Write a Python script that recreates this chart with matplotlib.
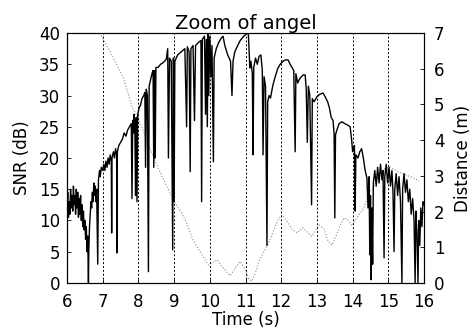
"""
Zoom of angel: SNR (left axis) and distance (right axis) against time
"""

import matplotlib
matplotlib.use('Agg')
import matplotlib.pyplot as plt

# SNR trace (time in s, SNR in dB)
snr_time = [
    6.00, 6.02, 6.04, 6.06, 6.08, 6.10, 6.12, 6.14, 6.16, 6.18,
    6.20, 6.22, 6.24, 6.26, 6.28, 6.30, 6.32, 6.34, 6.36, 6.38,
    6.40, 6.42, 6.44, 6.46, 6.48, 6.50, 6.52, 6.54, 6.56, 6.58,
    6.60, 6.61, 6.63, 6.65, 6.67, 6.69, 6.71, 6.73, 6.75, 6.77,
    6.79, 6.81, 6.83, 6.86, 6.88, 6.91, 6.93, 6.96, 7.00, 7.03,
    7.06, 7.09, 7.12, 7.15, 7.18, 7.21, 7.24, 7.25, 7.26, 7.30,
    7.33, 7.36, 7.39, 7.40, 7.41, 7.45, 7.50, 7.55, 7.60, 7.65,
    7.70, 7.75, 7.80, 7.82, 7.84, 7.86, 7.88, 7.90, 7.92, 7.94,
    7.96, 7.98, 8.02, 8.06, 8.10, 8.15, 8.18, 8.20, 8.22, 8.25,
    8.28, 8.30, 8.34, 8.38, 8.41, 8.43, 8.45, 8.47, 8.49, 8.55,
    8.62, 8.70, 8.78, 8.82, 8.84, 8.87, 8.92, 8.96, 8.98, 9.00,
    9.02, 9.10, 9.20, 9.30, 9.35, 9.37, 9.42, 9.45, 9.47, 9.53,
    9.57, 9.60, 9.68, 9.75, 9.77, 9.79, 9.85, 9.88, 9.90, 9.93,
    9.95, 9.97, 10.00, 10.03, 10.06, 10.10, 10.12, 10.18, 10.25, 10.32,
    10.37, 10.42, 10.50, 10.58, 10.62, 10.65, 10.70, 10.78, 10.85, 10.95,
    11.05, 11.08, 11.12, 11.15, 11.19, 11.21, 11.23, 11.28, 11.33, 11.38,
    11.43, 11.47, 11.49, 11.52, 11.56, 11.60, 11.62, 11.66, 11.70, 11.76,
    11.83, 11.90, 11.97, 12.05, 12.12, 12.19, 12.25, 12.30, 12.35, 12.39,
    12.41, 12.46, 12.50, 12.56, 12.62, 12.67, 12.70, 12.73, 12.76, 12.80,
    12.85, 12.87, 12.92, 13.00, 13.08, 13.17, 13.23, 13.30, 13.35, 13.40,
    13.45, 13.48, 13.50, 13.52, 13.56, 13.62, 13.70, 13.78, 13.85, 13.93,
    13.97, 14.00, 14.05, 14.07, 14.09, 14.15, 14.20, 14.25, 14.30, 14.35,
    14.40, 14.43, 14.46, 14.48, 14.50, 14.52, 14.54, 14.56, 14.58, 14.62,
    14.66, 14.70, 14.74, 14.78, 14.82, 14.85, 14.88, 14.90, 14.94, 14.98,
    15.02, 15.06, 15.10, 15.13, 15.16, 15.18, 15.22, 15.26, 15.30, 15.34,
    15.38, 15.40, 15.44, 15.48, 15.52, 15.56, 15.60, 15.64, 15.68, 15.72,
    15.75, 15.77, 15.80, 15.83, 15.85, 15.88, 15.91, 15.94, 15.97, 16.00,
]
snr_db = [
    12.0, 14.5, 10.5, 13.0, 11.0, 15.0, 12.0, 14.0, 11.5, 15.5,
    12.5, 14.0, 11.0, 15.0, 12.0, 14.5, 10.5, 13.5, 11.0, 14.0,
    10.0, 12.5, 9.0, 11.5, 8.5, 10.0, 7.0, 9.0, 5.0, 7.5,
    0.0, 5.0, 9.0, 11.0, 13.0, 12.0, 14.5, 13.0, 16.0, 14.0,
    15.5, 13.0, 15.0, 3.0, 16.5, 18.0, 17.0, 18.5, 18.0, 19.0,
    18.0, 19.5, 18.5, 20.0, 19.0, 20.5, 19.5, 8.0, 20.0, 21.0,
    20.0, 21.5, 20.5, 4.8, 21.0, 22.0, 22.5, 23.0, 24.0, 23.5,
    24.5, 25.0, 25.5, 13.5, 26.0, 24.0, 27.0, 25.0, 14.0, 26.5,
    13.0, 27.0, 28.0, 28.5, 29.5, 30.0, 30.5, 18.5, 31.0, 30.0,
    1.8, 31.5, 32.5, 33.5, 34.0, 18.5, 34.0, 20.0, 34.5, 34.5,
    35.0, 35.3, 35.8, 37.5, 20.0, 36.0, 35.5, 5.3, 36.0, 13.0,
    35.5, 36.5, 37.0, 37.5, 25.0, 37.8, 37.0, 17.8, 37.5, 38.0,
    26.0, 38.0, 38.5, 38.8, 13.0, 39.0, 39.5, 27.0, 39.0, 25.0,
    39.8, 30.0, 39.5, 33.0, 38.0, 19.4, 36.0, 37.5, 38.5, 39.2,
    39.5, 38.0, 36.5, 35.5, 30.0, 35.5, 37.0, 38.0, 38.8, 39.5,
    40.0, 39.8, 34.4, 35.5, 33.5, 20.5, 34.5, 36.0, 35.0, 36.3,
    36.5, 34.0, 20.5, 33.0, 31.5, 6.0, 29.0, 30.0, 29.6, 31.5,
    33.0, 34.3, 35.0, 35.5, 35.7, 35.7, 35.0, 34.5, 34.0, 21.0,
    33.5, 32.0, 32.5, 33.0, 33.3, 33.3, 31.0, 22.5, 31.5, 30.0,
    12.5, 29.5, 29.0, 29.8, 30.2, 30.4, 29.8, 29.0, 28.0, 26.5,
    26.0, 24.0, 10.4, 23.7, 24.5, 25.5, 25.8, 25.5, 25.3, 25.0,
    23.0, 21.0, 22.0, 11.5, 20.5, 20.0, 21.0, 21.5, 20.0, 18.0,
    16.8, 12.0, 17.0, 4.5, 14.0, 0.5, 12.0, 3.0, 16.0, 18.0,
    15.5, 18.5, 16.0, 19.0, 16.5, 18.0, 4.0, 17.0, 19.0, 16.0,
    18.5, 15.5, 18.0, 14.5, 5.0, 15.0, 17.5, 14.0, 17.0, 13.0,
    0.0, 15.0, 17.5, 14.5, 16.5, 13.0, 15.0, 11.0, 13.5, 10.0,
    0.0, 11.5, 8.0, 0.0, 10.0, 6.0, 12.0, 9.0, 13.0, 12.5,
]

# distance trace (time in s, distance in m)
dist_time = [
    6.00, 6.90, 6.95, 7.05, 7.20, 7.40, 7.57, 7.70, 7.82, 8.00,
    8.20, 8.35, 8.52, 8.70, 8.90, 9.05, 9.22, 9.36, 9.53, 9.73,
    9.90, 9.96, 10.05, 10.20, 10.35, 10.57, 10.70, 10.85, 10.95, 11.10,
    11.18, 11.30, 11.40, 11.55, 11.66, 11.80, 11.90, 12.02, 12.15, 12.30,
    12.45, 12.60, 12.70, 12.86, 13.00, 13.06, 13.20, 13.30, 13.42, 13.55,
    13.65, 13.76, 13.88, 13.98, 14.10, 14.32, 14.45, 14.60, 14.77, 14.90,
    15.05, 15.30, 15.55, 15.70, 15.86,
]
dist_m = [
    7.30, 7.05, 6.95, 6.75, 6.50, 6.10, 5.77, 5.35, 4.93, 4.60,
    4.10, 3.70, 3.30, 2.90, 2.50, 2.20, 1.95, 1.65, 1.20, 0.87,
    0.60, 0.50, 0.55, 0.65, 0.45, 0.20, 0.40, 0.60, 0.45, 0.10,
    0.05, 0.35, 0.65, 0.95, 1.15, 1.50, 1.75, 1.90, 1.75, 1.50,
    1.40, 1.55, 1.45, 1.30, 1.55, 1.62, 1.50, 1.20, 1.05, 1.35,
    1.62, 1.82, 1.75, 1.60, 1.80, 2.10, 2.50, 2.70, 3.10, 3.20,
    3.25, 3.10, 3.00, 2.95, 2.85,
]

grid_times = [7, 8, 9, 10, 11, 12, 13, 14, 15]
x_ticks = [6, 7, 8, 9, 10, 11, 12, 13, 14, 15, 16]
snr_ticks = [0, 5, 10, 15, 20, 25, 30, 35, 40]
dist_ticks = [0, 1, 2, 3, 4, 5, 6, 7]


def main():
    plt.rcParams['font.family'] = ['DejaVu Sans']
    plt.rcParams['font.size'] = 12

    fig = plt.figure(figsize=(4.77, 3.34), dpi=100)
    ax = fig.add_axes([0.1405, 0.153, 0.7485, 0.748])
    ax2 = ax.twinx()

    # vertical dotted grid
    for t in grid_times:
        ax.axvline(t, color='black', lw=0.7, linestyle=(0, (2, 2)), zorder=1)

    ax.plot(snr_time, snr_db, color='black', lw=1.0, zorder=3)
    ax2.plot(dist_time, dist_m, color='#8c8c8c', lw=0.8, linestyle=':')

    ax.set_xlim(6, 16)
    ax.set_ylim(0, 40)
    ax2.set_ylim(0, 7)
    ax.set_xticks(x_ticks)
    ax.set_yticks(snr_ticks)
    ax2.set_yticks(dist_ticks)

    ax.set_zorder(ax2.get_zorder() + 1)
    ax.patch.set_visible(False)

    for a in (ax, ax2):
        a.tick_params(direction='in', length=3, width=0.6, pad=5)
        for s in a.spines.values():
            s.set_linewidth(0.8)
    ax.tick_params(axis='x', pad=7)
    ax2.tick_params(axis='y', pad=7)

    ax.set_title('Zoom of angel', fontsize=14, pad=1)
    ax.set_xlabel('Time (s)', labelpad=0)
    ax.set_ylabel('SNR (dB)', labelpad=6)
    ax2.set_ylabel('Distance (m)', labelpad=7)

    fig.savefig('out.png', dpi=100)


if __name__ == "__main__":
    main()
